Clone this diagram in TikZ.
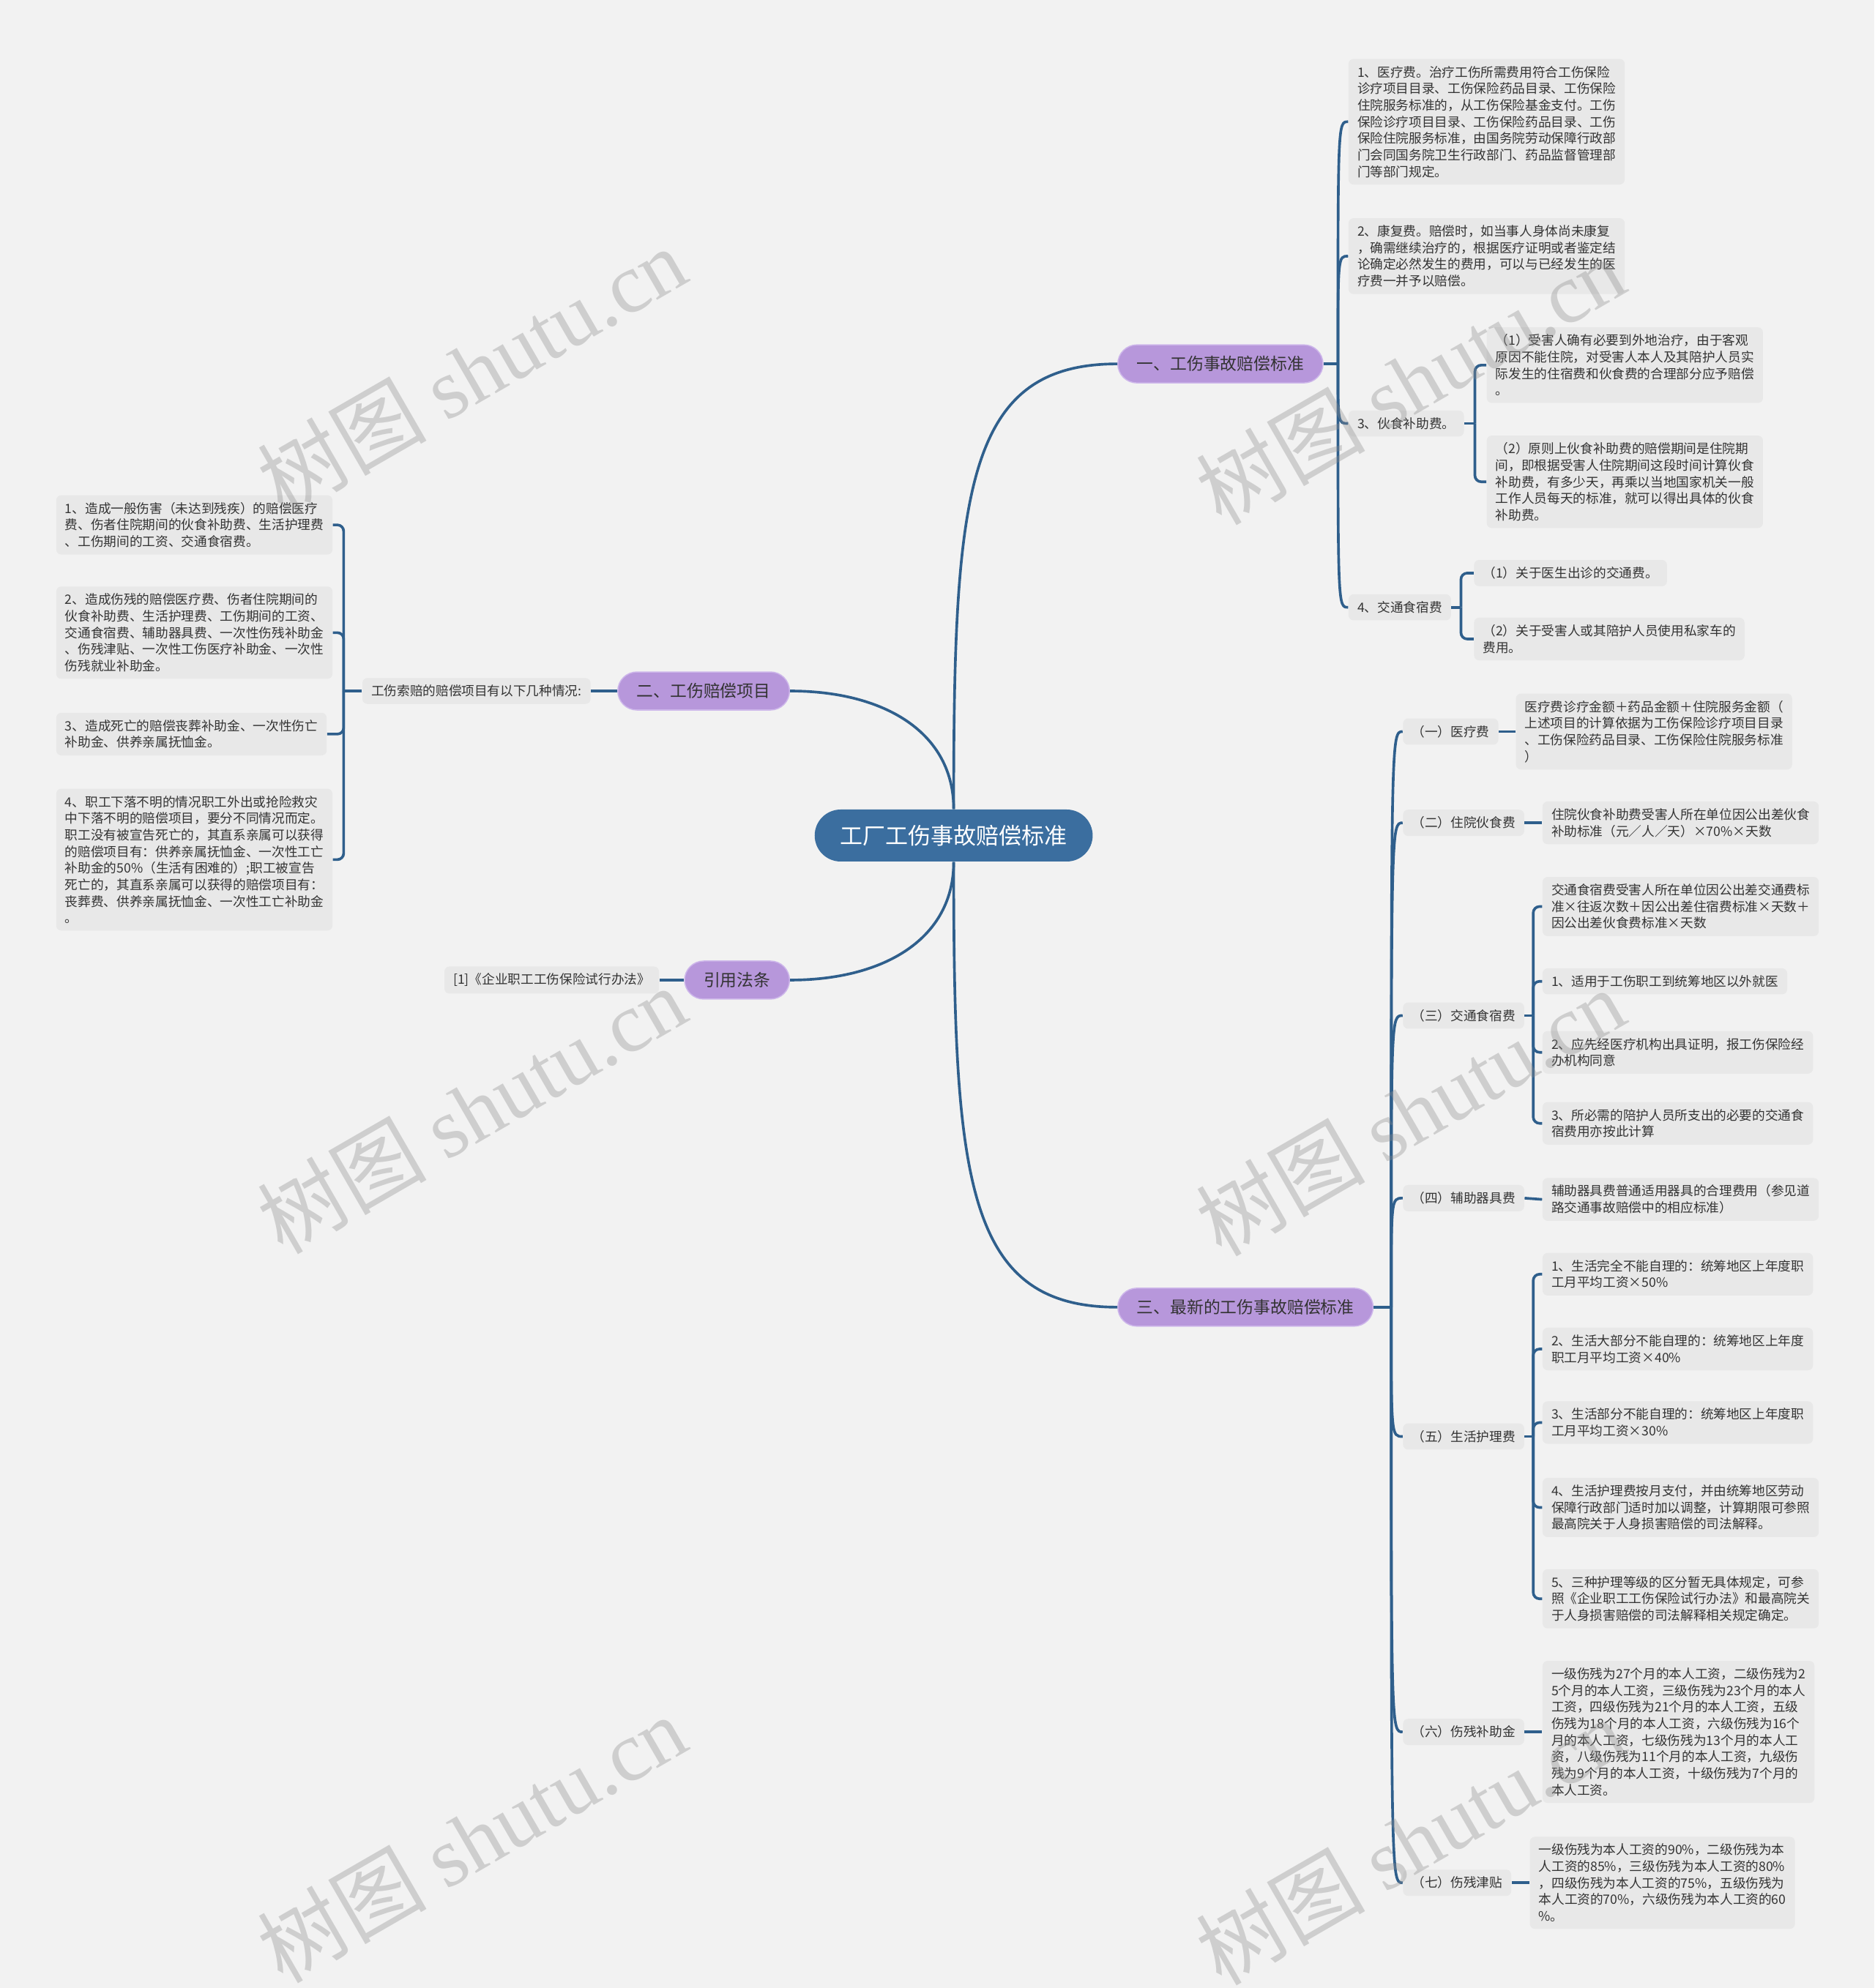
\documentclass[tikz,border=0pt]{standalone}
\usepackage{fontspec}
\setmainfont{Noto Sans CJK SC}
\newfontfamily\wmfont{Liberation Serif}
\usepackage{tikz}
\usetikzlibrary{positioning}
\definecolor{bgc}{HTML}{F2F2F2}
\definecolor{leafc}{HTML}{E8E8E8}
\definecolor{rootc}{HTML}{3B6E9F}
\definecolor{branchc}{HTML}{B797DB}
\definecolor{branchd}{HTML}{CDB6EA}
\definecolor{linkc}{HTML}{2F5F8C}
\definecolor{txtc}{HTML}{333333}
\tikzstyle{leaf}=[fill=leafc,rectangle,rounded corners=0.08cm,inner xsep=0.14cm,inner ysep=0.11cm,align=left,anchor=west,text=txtc,font=\fontsize{5.8}{7.45}\selectfont]
\tikzstyle{branch}=[fill=branchc,draw=branchd,line width=0.5pt,rectangle,rounded corners=0.3cm,minimum height=0.6cm,inner xsep=0.3cm,text=txtc,font=\fontsize{7.5}{9}\selectfont]
\tikzstyle{root}=[fill=rootc,rectangle,rounded corners=0.41cm,minimum height=0.82cm,inner xsep=0.4cm,text=white,font=\fontsize{10.2}{12}\selectfont]
\tikzstyle{link}=[draw=linkc,line width=1.2pt]
\tikzstyle{bracket}=[link,rounded corners=0.1cm]
\tikzstyle{wmark}=[text=black!45,opacity=0.35,rotate=30,font=\fontsize{38}{40}\selectfont]

\begin{document}
\begin{tikzpicture}[x=0.02cm,y=-0.02cm]
  \path[use as bounding box,fill=bgc] (0,0) rectangle (1478,1568);

  \node[root] (root) at (752,659) {工厂工伤事故赔偿标准};
  \node[branch,anchor=west] (std) at (881,287) {一、工伤事故赔偿标准};
  \node[branch,anchor=east] (items) at (623,545) {二、工伤赔偿项目};
  \node[branch,anchor=east] (law) at (623,773) {引用法条};
  \node[branch,anchor=west] (latest) at (881,1031) {三、最新的工伤事故赔偿标准};

  \node[leaf] (med) at (1063,96) {1、医疗费。治疗工伤所需费用符合工伤保险\\诊疗项目目录、工伤保险药品目录、工伤保险\\住院服务标准的，从工伤保险基金支付。工伤\\保险诊疗项目目录、工伤保险药品目录、工伤\\保险住院服务标准，由国务院劳动保障行政部\\门会同国务院卫生行政部门、药品监督管理部\\门等部门规定。};
  \node[leaf] (rehab) at (1063,202) {2、康复费。赔偿时，如当事人身体尚未康复\\，确需继续治疗的，根据医疗证明或者鉴定结\\论确定必然发生的费用，可以与已经发生的医\\疗费一并予以赔偿。};
  \node[leaf] (food) at (1063,334) {3、伙食补助费。};
  \node[leaf] (food1) at (1172,288) {（1）受害人确有必要到外地治疗，由于客观\\原因不能住院，对受害人本人及其陪护人员实\\际发生的住宿费和伙食费的合理部分应予赔偿\\。};
  \node[leaf] (food2) at (1172,380) {（2）原则上伙食补助费的赔偿期间是住院期\\间，即根据受害人住院期间这段时间计算伙食\\补助费，有多少天，再乘以当地国家机关一般\\工作人员每天的标准，就可以得出具体的伙食\\补助费。};
  \node[leaf] (trav) at (1063,479) {4、交通食宿费};
  \node[leaf] (trav1) at (1162,452) {（1）关于医生出诊的交通费。};
  \node[leaf] (trav2) at (1162,504) {（2）关于受害人或其陪护人员使用私家车的\\费用。};

  \node[leaf,anchor=east] (cases) at (466,545) {工伤索赔的赔偿项目有以下几种情况:};
  \node[leaf] (case1) at (44,414) {1、造成一般伤害（未达到残疾）的赔偿医疗\\费、伤者住院期间的伙食补助费、生活护理费\\、工伤期间的工资、交通食宿费。};
  \node[leaf] (case2) at (44,499) {2、造成伤残的赔偿医疗费、伤者住院期间的\\伙食补助费、生活护理费、工伤期间的工资、\\交通食宿费、辅助器具费、一次性伤残补助金\\、伤残津贴、一次性工伤医疗补助金、一次性\\伤残就业补助金。};
  \node[leaf] (case3) at (44,579) {3、造成死亡的赔偿丧葬补助金、一次性伤亡\\补助金、供养亲属抚恤金。};
  \node[leaf] (case4) at (44,678) {4、职工下落不明的情况职工外出或抢险救灾\\中下落不明的赔偿项目，要分不同情况而定。\\职工没有被宣告死亡的，其直系亲属可以获得\\的赔偿项目有：供养亲属抚恤金、一次性工亡\\补助金的50\%（生活有困难的）;职工被宣告\\死亡的，其直系亲属可以获得的赔偿项目有：\\丧葬费、供养亲属抚恤金、一次性工亡补助金\\。};

  \node[leaf,anchor=east] (lawref) at (520,773) {[1]《企业职工工伤保险试行办法》};

  \node[leaf] (c1) at (1106,577) {（一）医疗费};
  \node[leaf] (c1a) at (1195,577) {医疗费诊疗金额＋药品金额＋住院服务金额（\\上述项目的计算依据为工伤保险诊疗项目目录\\、工伤保险药品目录、工伤保险住院服务标准\\）};
  \node[leaf] (c2) at (1106,649) {（二）住院伙食费};
  \node[leaf] (c2a) at (1216,649) {住院伙食补助费受害人所在单位因公出差伙食\\补助标准（元／人／天）×70\%×天数};
  \node[leaf] (c3) at (1106,801) {（三）交通食宿费};
  \node[leaf] (c3a) at (1216,715) {交通食宿费受害人所在单位因公出差交通费标\\准×往返次数＋因公出差住宿费标准×天数＋\\因公出差伙食费标准×天数};
  \node[leaf] (c3b) at (1216,774) {1、适用于工伤职工到统筹地区以外就医};
  \node[leaf] (c3c) at (1216,830) {2、应先经医疗机构出具证明，报工伤保险经\\办机构同意};
  \node[leaf] (c3d) at (1216,886) {3、所必需的陪护人员所支出的必要的交通食\\宿费用亦按此计算};
  \node[leaf] (c4) at (1106,945) {（四）辅助器具费};
  \node[leaf] (c4a) at (1216,946) {辅助器具费普通适用器具的合理费用（参见道\\路交通事故赔偿中的相应标准）};
  \node[leaf] (c5) at (1106,1133) {（五）生活护理费};
  \node[leaf] (c5a) at (1216,1005) {1、生活完全不能自理的：统筹地区上年度职\\工月平均工资×50\%};
  \node[leaf] (c5b) at (1216,1064) {2、生活大部分不能自理的：统筹地区上年度\\职工月平均工资×40\%};
  \node[leaf] (c5c) at (1216,1122) {3、生活部分不能自理的：统筹地区上年度职\\工月平均工资×30\%};
  \node[leaf] (c5d) at (1216,1189) {4、生活护理费按月支付，并由统筹地区劳动\\保障行政部门适时加以调整，计算期限可参照\\最高院关于人身损害赔偿的司法解释。};
  \node[leaf] (c5e) at (1216,1261) {5、三种护理等级的区分暂无具体规定，可参\\照《企业职工工伤保险试行办法》和最高院关\\于人身损害赔偿的司法解释相关规定确定。};
  \node[leaf] (c6) at (1106,1366) {（六）伤残补助金};
  \node[leaf] (c6a) at (1216,1366) {一级伤残为27个月的本人工资，二级伤残为2\\5个月的本人工资，三级伤残为23个月的本人\\工资，四级伤残为21个月的本人工资，五级\\伤残为18个月的本人工资，六级伤残为16个\\月的本人工资，七级伤残为13个月的本人工\\资，八级伤残为11个月的本人工资，九级伤\\残为9个月的本人工资，十级伤残为7个月的\\本人工资。};
  \node[leaf] (c7) at (1106,1485) {（七）伤残津贴};
  \node[leaf] (c7a) at (1206,1485) {一级伤残为本人工资的90\%，二级伤残为本\\人工资的85\%，三级伤残为本人工资的80\%\\，四级伤残为本人工资的75\%，五级伤残为\\本人工资的70\%，六级伤残为本人工资的60\\\%。};

  \coordinate (j1) at (1055,287);
  \coordinate (jf) at (1163,334);
  \coordinate (jt) at (1152,479);
  \coordinate (j2) at (271,545);
  \coordinate (j3) at (1097,1031);
  \coordinate (jc3) at (1209,801);
  \coordinate (jc5) at (1209,1133);

  \draw[link] (root.north) .. controls +(0,-250) and +(-120,0) .. (std.west);
  \draw[link] (root.north) .. controls +(0,-60) and +(75,0) .. (items.east);
  \draw[link] (root.south) .. controls +(0,60) and +(75,0) .. (law.east);
  \draw[link] (root.south) .. controls +(0,250) and +(-120,0) .. (latest.west);

  \draw[link] (std.east) -- (j1);
  \draw[link] (j1) .. controls (j1 |- med.west) .. (med.west);
  \draw[link] (j1) .. controls (j1 |- rehab.west) .. (rehab.west);
  \draw[link] (j1) .. controls (j1 |- food.west) .. (food.west);
  \draw[link] (j1) .. controls (j1 |- trav.west) .. (trav.west);
  \draw[link] (food.east) -- (jf);
  \draw[bracket] (jf) |- (food1.west);
  \draw[bracket] (jf) |- (food2.west);
  \draw[link] (trav.east) -- (jt);
  \draw[bracket] (jt) |- (trav1.west);
  \draw[bracket] (jt) |- (trav2.west);

  \draw[link] (items.west) -- (cases.east);
  \draw[link] (cases.west) -- (j2);
  \draw[bracket] (j2) |- (case1.east);
  \draw[bracket] (j2) |- (case2.east);
  \draw[bracket] (j2) |- (case3.east);
  \draw[bracket] (j2) |- (case4.east);

  \draw[link] (law.west) -- (lawref.east);

  \draw[link] (latest.east) -- (j3);
  \draw[link] (j3) .. controls (j3 |- c1.west) .. (c1.west);
  \draw[link] (j3) .. controls (j3 |- c2.west) .. (c2.west);
  \draw[link] (j3) .. controls (j3 |- c3.west) .. (c3.west);
  \draw[link] (j3) .. controls (j3 |- c4.west) .. (c4.west);
  \draw[link] (j3) .. controls (j3 |- c5.west) .. (c5.west);
  \draw[link] (j3) .. controls (j3 |- c6.west) .. (c6.west);
  \draw[link] (j3) .. controls (j3 |- c7.west) .. (c7.west);
  \draw[link] (c1.east) -- (c1a.west);
  \draw[link] (c2.east) -- (c2a.west);
  \draw[link] (c3.east) -- (jc3);
  \draw[bracket] (jc3) |- (c3a.west);
  \draw[bracket] (jc3) |- (c3b.west);
  \draw[bracket] (jc3) |- (c3c.west);
  \draw[bracket] (jc3) |- (c3d.west);
  \draw[link] (c4.east) -- (c4a.west);
  \draw[link] (c5.east) -- (jc5);
  \draw[bracket] (jc5) |- (c5a.west);
  \draw[bracket] (jc5) |- (c5b.west);
  \draw[bracket] (jc5) |- (c5c.west);
  \draw[bracket] (jc5) |- (c5d.west);
  \draw[bracket] (jc5) |- (c5e.west);
  \draw[link] (c6.east) -- (c6a.west);
  \draw[link] (c7.east) -- (c7a.west);

  \node[wmark] (wm1) at (372,292) {树图 {\wmfont shutu.cn}};
  \node[wmark] (wm2) at (1112,300) {树图 {\wmfont shutu.cn}};
  \node[wmark] (wm3) at (372,875) {树图 {\wmfont shutu.cn}};
  \node[wmark] (wm4) at (1112,877) {树图 {\wmfont shutu.cn}};
  \node[wmark] (wm5) at (372,1450) {树图 {\wmfont shutu.cn}};
  \node[wmark] (wm6) at (1112,1452) {树图 {\wmfont shutu.cn}};
\end{tikzpicture}
\end{document}
